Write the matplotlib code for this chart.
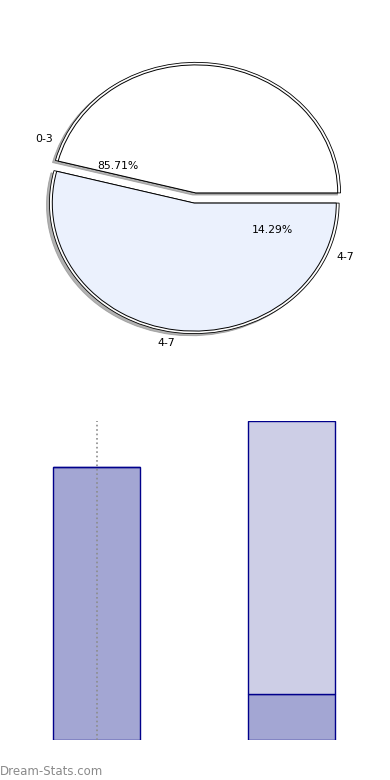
import matplotlib
matplotlib.use('Agg')
from matplotlib import pyplot

## data
age_groups = ['0-3', '4-7']
counts = [6, 1]
# slice sizes as they are drawn in the picture (percent of the circle)
drawn_share = [46, 54]
drawn_labels = ['', '4-7']
pie_colors = ['white', '#ebf1fd']

bar_pos = [0, 1]
bar_lower = [6, 1]
bar_upper = [0, 6]

fig = pyplot.figure(figsize=(3.9, 7.8), dpi=100)

## pie part
ax1 = fig.add_axes([0, 420 / 780, 1, 320 / 780])
# back layer gives the double outline and the shadow
ax1.pie(drawn_share, colors=['white', 'white'], startangle=0, radius=1.02,
        explode=[0.04, 0.04],
        shadow=dict(ox=-0.015, oy=-0.012, shade=0.5, alpha=0.6),
        wedgeprops=dict(edgecolor='black', linewidth=0.6))
ax1.pie(drawn_share, colors=pie_colors, startangle=0, labels=drawn_labels,
        explode=[0.04, 0.04], labeldistance=1.1, textprops=dict(fontsize=7.8),
        wedgeprops=dict(edgecolor='black', linewidth=0.7))
# labels and percentages of the counts
ax1.pie(counts, labels=age_groups, startangle=1, autopct='%.2f%%',
        pctdistance=0.6, labeldistance=1.1, textprops=dict(fontsize=7.8),
        wedgeprops=dict(alpha=0, linewidth=0))
ax1.set_aspect('auto')
ax1.set_xlim([-195 / 142, 195 / 142])
ax1.set_ylim([-162 / 128, 158 / 128])
ax1.axis('off')

## bar part
ax2 = fig.add_axes([0, 40 / 780, 1, 319 / 780])
ax2.bar(bar_pos, bar_lower, width=0.446, color='#a3a6d3',
        edgecolor='#00008b', linewidth=1)
ax2.bar(bar_pos, bar_upper, bottom=bar_lower, width=0.446, color='#cdcee6',
        edgecolor='#00008b', linewidth=1)
ax2.vlines(bar_pos[0], 0, sum(counts), colors='#8c8c8c', linestyles=':',
           linewidth=1.2)
ax2.set_xlim([-0.495, 1.505])
ax2.set_ylim([0, sum(counts)])
ax2.axis('off')

fig.text(0.0, 5 / 780, 'Dream-Stats.com', color='#8a8a8a', fontsize=8.5)

pyplot.savefig('out.png', dpi=100)
pyplot.close()
